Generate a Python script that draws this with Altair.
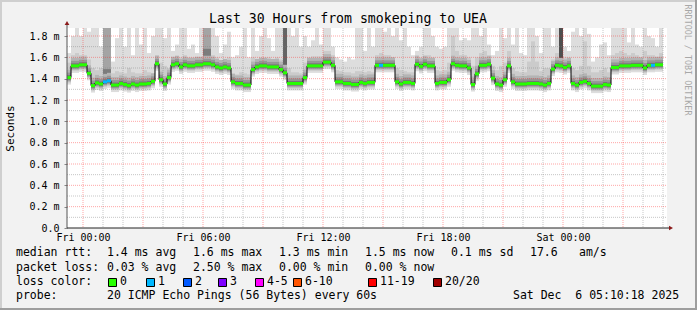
import altair as alt
import pandas as pd

MONO = "DejaVu Sans Mono"

# ---------------- data ----------------
# 12-minute steps, first step starts Thu 23:12 (= -0.8 h relative to Fri 00:00)
MEDIAN_MS = [
    1.41, 1.52, 1.52, 1.53, 1.53, 1.45, 1.335, 1.36, 1.35, 1.37,
    1.38, 1.34, 1.34, 1.355, 1.345, 1.335, 1.35, 1.34, 1.35, 1.35,
    1.355, 1.375, 1.54, 1.39, 1.35, 1.41, 1.53, 1.54, 1.51, 1.53,
    1.52, 1.52, 1.53, 1.53, 1.54, 1.54, 1.53, 1.51, 1.50, 1.51,
    1.50, 1.37, 1.355, 1.355, 1.34, 1.34, 1.485, 1.51, 1.52, 1.52,
    1.51, 1.51, 1.51, 1.485, 1.455, 1.355, 1.355, 1.355, 1.355, 1.41,
    1.52, 1.52, 1.52, 1.52, 1.555, 1.555, 1.525, 1.37, 1.37, 1.355,
    1.355, 1.345, 1.345, 1.365, 1.355, 1.365, 1.365, 1.525, 1.525, 1.525,
    1.525, 1.525, 1.37, 1.35, 1.365, 1.365, 1.355, 1.535, 1.515, 1.535,
    1.52, 1.52, 1.355, 1.365, 1.365, 1.39, 1.54, 1.525, 1.52, 1.52,
    1.50, 1.345, 1.445, 1.525, 1.525, 1.535, 1.405, 1.35, 1.34, 1.39,
    1.52, 1.37, 1.35, 1.35, 1.35, 1.355, 1.355, 1.355, 1.35, 1.34,
    1.355, 1.49, 1.525, 1.52, 1.505, 1.52, 1.355, 1.34, 1.365, 1.375,
    1.355, 1.33, 1.33, 1.33, 1.345, 1.34, 1.505, 1.505, 1.52, 1.52,
    1.52, 1.525, 1.525, 1.525, 1.50, 1.525, 1.525, 1.53, 1.53,
]
TOP_MS = [
    1.64, 1.80, 1.875, 1.80, 1.875, 1.84, 1.875, 1.875, 1.70, 1.875,
    1.875, 1.56, 1.78, 1.875, 1.70, 1.875, 1.62, 1.875, 1.72, 1.875,
    1.64, 1.80, 1.875, 1.875, 1.78, 1.875, 1.66, 1.72, 1.875, 1.875,
    1.68, 1.72, 1.64, 1.875, 1.875, 1.875, 1.875, 1.80, 1.64, 1.72,
    1.84, 1.60, 1.62, 1.70, 1.875, 1.60, 1.875, 1.66, 1.80, 1.875,
    1.78, 1.66, 1.875, 1.875, 1.875, 1.875, 1.80, 1.875, 1.70, 1.80,
    1.70, 1.76, 1.875, 1.72, 1.875, 1.875, 1.70, 1.60, 1.58, 1.56,
    1.60, 1.58, 1.875, 1.875, 1.66, 1.875, 1.70, 1.875, 1.875, 1.84,
    1.875, 1.80, 1.875, 1.76, 1.875, 1.70, 1.62, 1.66, 1.70, 1.875,
    1.875, 1.80, 1.70, 1.68, 1.70, 1.875, 1.875, 1.875, 1.76, 1.78,
    1.76, 1.875, 1.875, 1.80, 1.875, 1.72, 1.62, 1.66, 1.875, 1.78,
    1.875, 1.72, 1.875, 1.64, 1.62, 1.875, 1.875, 1.80, 1.64, 1.875,
    1.875, 1.70, 1.875, 1.875, 1.70, 1.66, 1.84, 1.875, 1.80, 1.875,
    1.82, 1.56, 1.60, 1.72, 1.74, 1.62, 1.875, 1.875, 1.875, 1.875,
    1.74, 1.875, 1.72, 1.70, 1.875, 1.80, 1.78, 1.70, 1.875,
]
MID_MS = [
    1.55, 1.62, 1.64, 1.62, 1.62, 1.58, 1.50, 1.48, 1.50, 1.50,
    1.50, 1.45, 1.47, 1.46, 1.45, 1.50, 1.46, 1.45, 1.45, 1.48,
    1.46, 1.45, 1.62, 1.55, 1.52, 1.50, 1.58, 1.60, 1.60, 1.62,
    1.60, 1.60, 1.59, 1.60, 1.64, 1.64, 1.62, 1.60, 1.57, 1.58,
    1.60, 1.45, 1.44, 1.46, 1.45, 1.44, 1.60, 1.58, 1.60, 1.60,
    1.60, 1.58, 1.60, 1.58, 1.55, 1.50, 1.46, 1.46, 1.45, 1.55,
    1.60, 1.61, 1.61, 1.61, 1.66, 1.66, 1.62, 1.48, 1.47, 1.46,
    1.46, 1.45, 1.47, 1.47, 1.46, 1.47, 1.46, 1.62, 1.64, 1.62,
    1.62, 1.60, 1.50, 1.48, 1.47, 1.46, 1.46, 1.62, 1.60, 1.62,
    1.62, 1.60, 1.48, 1.47, 1.48, 1.55, 1.80, 1.66, 1.62, 1.62,
    1.60, 1.52, 1.60, 1.64, 1.66, 1.62, 1.52, 1.48, 1.52, 1.55,
    1.66, 1.50, 1.47, 1.46, 1.46, 1.56, 1.75, 1.56, 1.47, 1.50,
    1.50, 1.58, 1.64, 1.64, 1.60, 1.60, 1.50, 1.48, 1.52, 1.75,
    1.52, 1.46, 1.46, 1.48, 1.50, 1.46, 1.62, 1.64, 1.66, 1.64,
    1.62, 1.64, 1.62, 1.60, 1.66, 1.62, 1.62, 1.60, 1.64,
]
LOSS = [
    0, 0, 0, 0, 0, 0, 0, 0, 0, 1,
    1, 0, 0, 0, 0, 0, 0, 0, 0, 0,
    0, 0, 0, 0, 0, 0, 0, 0, 0, 0,
    0, 0, 0, 0, 0, 0, 0, 0, 0, 0,
    0, 0, 0, 0, 0, 0, 0, 0, 0, 0,
    0, 0, 0, 0, 0, 0, 0, 0, 0, 0,
    0, 0, 0, 0, 0, 0, 0, 0, 0, 0,
    0, 0, 0, 0, 0, 0, 0, 0, 1, 0,
    0, 0, 0, 0, 0, 0, 0, 0, 0, 0,
    0, 0, 0, 0, 0, 0, 0, 0, 0, 0,
    0, 0, 0, 0, 0, 0, 0, 0, 0, 0,
    0, 0, 0, 0, 0, 0, 0, 0, 0, 0,
    0, 0, 0, 0, 0, 0, 0, 0, 0, 0,
    0, 0, 0, 0, 0, 0, 0, 0, 0, 0,
    0, 0, 0, 0, 0, 0, 1, 0, 0,
]
# dark smoke columns (step number, from, to, shade class)
SPIKE_STEP = [10, 11, 10, 11, 35, 36, 35, 36, 55, 124]
SPIKE_LO = [1.49, 1.49, 1.38, 1.38, 1.62, 1.62, 1.55, 1.55, 1.455, 1.52]
SPIKE_HI = [1.875, 1.875, 1.49, 1.49, 1.875, 1.875, 1.68, 1.68, 1.875, 1.875]
SPIKE_SHADE = ["a", "a", "b", "b", "a", "a", "b", "b", "c", "d"]

FIRST_STEP_H = -0.8
STEP_H = 0.2
X_DOMAIN = [-0.8, 29.2]
Y_DOMAIN = [0, 1.875]

X_TICK_HOURS = [0, 6, 12, 18, 24]
X_TICK_LABELS = ["Fri 00:00", "Fri 06:00", "Fri 12:00", "Fri 18:00", "Sat 00:00"]
Y_TICKS = [0, 0.2, 0.4, 0.6, 0.8, 1.0, 1.2, 1.4, 1.6, 1.8]
H_MINOR = [0.1, 0.3, 0.5, 0.7, 0.9, 1.1, 1.3, 1.5, 1.7]
H_MAJOR = [0.2, 0.4, 0.6, 0.8, 1.0, 1.2, 1.4, 1.6, 1.8]
V_MAJOR = [0, 3, 6, 9, 12, 15, 18, 21, 24, 27]
V_MINOR = [1, 2, 4, 5, 7, 8, 10, 11, 13, 14, 16, 17, 19, 20, 22, 23, 25, 26, 28, 29]

TITLE = "Last 30 Hours from smokeping to UEA"
WATERMARK = "RRDTOOL / TOBI OETIKER"
RTT_ITEMS = ["median rtt:", "1.4 ms avg", "1.6 ms max", "1.3 ms min", "1.5 ms now",
             "0.1 ms sd", "17.6", "am/s"]
LOSS_ITEMS = ["packet loss:", "0.03 % avg", "2.50 % max", "0.00 % min", "0.00 % now"]
LOSS_COLOR_TITLE = "loss color:"
LOSS_LABELS = ["0", "1", "2", "3", "4-5", "6-10", "11-19", "20/20"]
LOSS_VALUES = [0, 1, 2, 3, 5, 10, 19, 20]
LOSS_COLORS = ["#26ff00", "#00b8ff", "#0059ff", "#7e00ff", "#ff00ff", "#ff5500",
               "#ff0000", "#a00000"]
PROBE_ITEMS = ["probe:", "20 ICMP Echo Pings (56 Bytes) every 60s"]
STAMP = "Sat Dec\u00a0 6 05:10:18 2025"

# ---------------- table ----------------
steps = list(range(1, len(MEDIAN_MS) + 1))
t0 = [FIRST_STEP_H + STEP_H * (s - 1) for s in steps]
df = pd.DataFrame({
    "step": steps,
    "t0": t0,
    "t1": [t + STEP_H for t in t0],
    "tc": [t + STEP_H / 2 for t in t0],
    "med": MEDIAN_MS,
    "top": TOP_MS,
    "mid": MID_MS,
    "loss": LOSS,
})
spikes = pd.DataFrame({"step": SPIKE_STEP, "lo": SPIKE_LO, "hi": SPIKE_HI,
                       "shade": SPIKE_SHADE})
spikes["t0"] = [FIRST_STEP_H + STEP_H * (s - 1) for s in SPIKE_STEP]
spikes["t1"] = spikes["t0"] + STEP_H

xs = alt.Scale(domain=X_DOMAIN, nice=False, zero=False)
ys = alt.Scale(domain=Y_DOMAIN, nice=False)

lab_expr = " : ".join(
    f"datum.value == {h} ? '{l}'" for h, l in zip(X_TICK_HOURS, X_TICK_LABELS)) + " : ''"

x_axis = alt.Axis(values=X_TICK_HOURS, labelExpr=lab_expr, grid=False, domain=False,
                  ticks=False, labelPadding=4, title=None, labelFont=MONO,
                  labelFontSize=10, labelColor="black", labelFlush=False)
y_axis = alt.Axis(values=Y_TICKS, grid=False, domain=False, ticks=True, tickSize=3,
                  tickColor="#888888", labelPadding=5, labelFont=MONO, labelFontSize=10,
                  labelColor="black",
                  labelExpr="datum.value == 0 ? '0.0' : format(datum.value, '.1f') + ' m'",
                  title="Seconds", titleFont=MONO, titleFontSize=11,
                  titleFontWeight="normal", titleX=-57, titleY=100, titleAngle=270,
                  titleAlign="center", titleBaseline="middle", titleColor="black")


def X(f):
    return alt.X(f"{f}:Q", scale=xs, axis=x_axis)


def Y(f):
    return alt.Y(f"{f}:Q", scale=ys, axis=y_axis)


X1 = alt.X2("t1:Q")

# smoke: light band (max ping down to below the median)
light = alt.Chart(df).mark_rect(color="#dddddd", y2Offset=7).encode(
    x=X("t0"), x2=X1, y=Y("top"), y2=alt.Y2("med:Q"))
midband = alt.Chart(df).mark_rect(color="#cbcbcb", y2Offset=5).encode(
    x=X("t0"), x2=X1, y=Y("mid"), y2=alt.Y2("med:Q"))
spike = alt.Chart(spikes).mark_rect().encode(
    x=X("t0"), x2=X1, y=Y("hi"), y2=alt.Y2("lo:Q"),
    color=alt.Color("shade:N", legend=None,
                    scale=alt.Scale(domain=["a", "b", "c", "d"],
                                    range=["#a4a4a4", "#7c7c7c", "#646464", "#4f4f4f"])))


def core(color, up, down):
    return alt.Chart(df).mark_rect(color=color, yOffset=-up, y2Offset=down).encode(
        x=X("t0"), x2=X1, y=Y("med"), y2=alt.Y2("med:Q"))


cores = [core("#b4b4b4", 8, 4), core("#969696", 5, 3), core("#747474", 2.5, 2)]


# grid
def hgrid(vals, color, opacity):
    return alt.Chart(pd.DataFrame({"v": vals})).mark_rule(
        color=color, strokeDash=[1, 1], strokeWidth=1, opacity=opacity).encode(
        y=Y("v"), x=alt.value(0), x2=alt.value(600))


def vgrid(vals, color, opacity):
    return alt.Chart(pd.DataFrame({"h": vals})).mark_rule(
        color=color, strokeDash=[1, 1], strokeWidth=1, opacity=opacity).encode(
        x=X("h"), y=alt.value(0), y2=alt.value(200))


grids = [hgrid(H_MINOR, "#808080", 0.45), vgrid(V_MINOR, "#808080", 0.45),
         hgrid(H_MAJOR, "#ff2020", 0.4), vgrid(V_MAJOR, "#ff2020", 0.4)]

# median
med_line = alt.Chart(df).mark_line(interpolate="step", color="black", strokeWidth=1).encode(
    x=X("tc"), y=Y("med"))
med_seg = alt.Chart(df).mark_rect(yOffset=-1.5, y2Offset=1.5).encode(
    x=X("t0"), x2=X1, y=Y("med"), y2=alt.Y2("med:Q"),
    color=alt.Color("loss:O", legend=None,
                    scale=alt.Scale(domain=LOSS_VALUES, range=LOSS_COLORS)))

one = pd.DataFrame({"k": [0]})

# axes lines and arrows
y_axis_line = alt.Chart(one).mark_rule(color="#555555").encode(
    x=alt.value(0), y=alt.value(-4), y2=alt.value(200))
x_axis_line = alt.Chart(one).mark_rule(color="#222222").encode(
    x=alt.value(0), x2=alt.value(603), y=alt.value(200))
up_arrow = alt.Chart(one).mark_point(shape="triangle-up", filled=True, size=22,
                                     color="#8b1a1a", opacity=1).encode(
    x=alt.value(0), y=alt.value(-5))
right_arrow = alt.Chart(one).mark_point(shape="triangle-right", filled=True, size=22,
                                        color="#8b1a1a", opacity=1).encode(
    x=alt.value(604), y=alt.value(200))


# frame (3D border of rrdtool)
def frame(x1, x2, y1, y2, color):
    return alt.Chart(one).mark_rect(color=color).encode(
        x=alt.value(x1), x2=alt.value(x2), y=alt.value(y1), y2=alt.value(y2))


frames = [frame(-67, 630, -28, -26, "#cfcfcf"), frame(-67, -65, -28, 282, "#cfcfcf"),
          frame(-67, 630, 280, 282, "#9e9e9e"), frame(628, 630, -28, 282, "#9e9e9e")]


def txt(s, x, y, size=11.5, color="black", align="left", angle=0):
    return alt.Chart(pd.DataFrame({"label": [s]})).mark_text(
        font=MONO, fontSize=size, color=color, align=align, baseline="middle",
        angle=angle).encode(x=alt.value(x - 67), y=alt.value(y - 28), text="label:N")


texts = [txt(TITLE, 348, 19, size=13.2, align="center"),
         txt(WATERMARK, 688, 60, size=8.4, color="#a8a8a8", align="center", angle=90)]

RTT_X = [16, 107, 193, 279, 365, 451, 530, 579]
for s, x in zip(RTT_ITEMS, RTT_X):
    texts.append(txt(s, x, 253))
LOSS_X = [16, 107, 193, 279, 365]
for s, x in zip(LOSS_ITEMS, LOSS_X):
    texts.append(txt(s, x, 268))
texts.append(txt(LOSS_COLOR_TITLE, 16, 282))
LC_X = [120, 158, 195, 230, 267, 305, 380, 445]
boxes = []
for s, c, x in zip(LOSS_LABELS, LOSS_COLORS, LC_X):
    texts.append(txt(s, x, 282))
    boxes.append(alt.Chart(one).mark_rect(color=c, stroke="black", strokeWidth=1).encode(
        x=alt.value(x - 12 - 67 + 0.5), x2=alt.value(x - 4 - 67 + 0.5),
        y=alt.value(278 - 28 + 0.5), y2=alt.value(286 - 28 + 0.5)))
PROBE_X = [16, 107]
for s, x in zip(PROBE_ITEMS, PROBE_X):
    texts.append(txt(s, x, 296))
texts.append(txt(STAMP, 513, 296))

chart = alt.layer(
    light, midband, spike, *cores, *grids, med_line, med_seg,
    y_axis_line, x_axis_line, up_arrow, right_arrow, *frames, *boxes, *texts
).resolve_scale(color="independent").properties(
    width=600, height=200,
    padding={"left": 67, "top": 28, "right": 30, "bottom": 82},
    autosize=alt.AutoSizeParams(type="none"),
).configure(background="#f2f2f2").configure_view(fill="white", stroke=None)

chart.save("out.html", embed_options={"renderer": "svg", "actions": False})
